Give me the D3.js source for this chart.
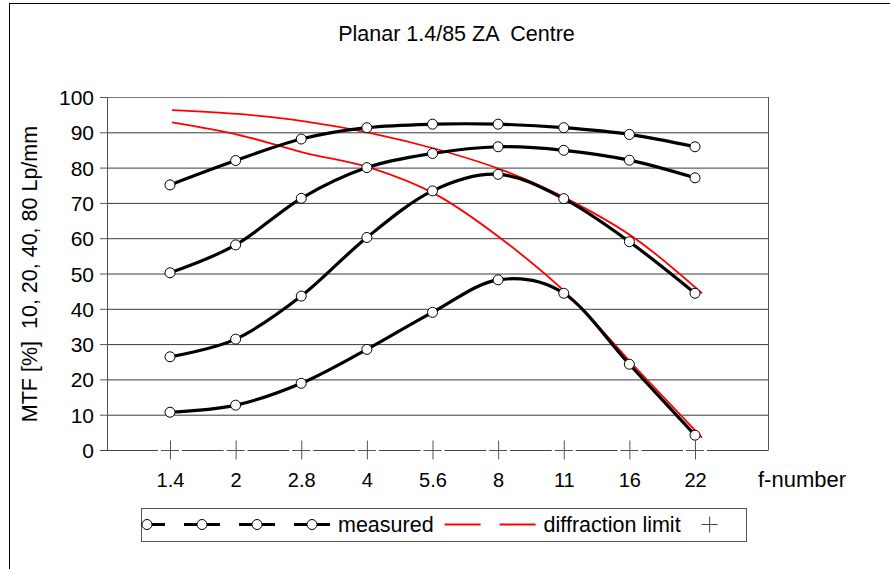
<!DOCTYPE html>
<html>
<head>
<meta charset="utf-8">
<script src="https://cdn.jsdelivr.net/npm/d3@7"></script>
<style>
  html, body { margin: 0; padding: 0; background: #fff; }
  svg { display: block; font-family: "Liberation Sans", Arial, sans-serif; }
  text { white-space: pre; }
</style>
</head>
<body>
<svg id="chart" width="890" height="569"></svg>
<script>
// ---- data ----
const fNumbers = ["1.4", "2", "2.8", "4", "5.6", "8", "11", "16", "22"];
const mtf10 = [75.1, 82.0, 88.1, 91.3, 92.3, 92.3, 91.3, 89.4, 85.9];
const mtf20 = [50.2, 58.1, 71.3, 80.0, 84.0, 85.9, 84.9, 82.1, 77.1];
const mtf40 = [26.4, 31.4, 43.6, 60.2, 73.4, 78.1, 71.2, 59.0, 44.4];
const mtf80 = [10.7, 12.7, 18.9, 28.5, 39.0, 48.2, 44.4, 24.3, 4.2];
const diffLimit40 = [96.3, 95.2, 93.1, 89.8, 85.2, 79.2, 70.8, 59.8, 44.4];
const diffLimit80 = [92.8, 89.3, 84.2, 79.9, 72.2, 59.4, 43.6, 23.3, 3.5];
const axisMarks = [0, 0, 0, 0, 0, 0, 0, 0, 0];
const yTicks = [0, 10, 20, 30, 40, 50, 60, 70, 80, 90, 100];
const titleText = "Planar 1.4/85 ZA  Centre";
const yTitle = "MTF [%]  10, 20, 40, 80 Lp/mm";
const xTitle = "f-number";
const legendItems = [
  { kind: "measured", label: "" },
  { kind: "measured", label: "" },
  { kind: "measured", label: "" },
  { kind: "measured", label: "measured" },
  { kind: "diffraction", label: "" },
  { kind: "diffraction", label: "diffraction limit" },
  { kind: "cross", label: "" }
];

// ---- layout ----
const plot = { left: 107, right: 768, top: 97, bottom: 450 };
const svg = d3.select("#chart");

// outer chart-area frame (only left & top edges visible)
svg.append("rect").attr("x", 9.5).attr("y", 3.5).attr("width", 900).attr("height", 600)
  .attr("fill", "none").attr("stroke", "#000").attr("stroke-width", 1);

const x = d3.scalePoint().domain(fNumbers).range([170, 695]);
const xDiff = d3.scalePoint().domain(fNumbers).range([172, 702]);
const y = d3.scaleLinear().domain([0, 100]).range([plot.bottom, plot.top]);

// gridlines
const grid = svg.append("g").attr("transform", `translate(${plot.left},0)`)
  .call(d3.axisRight(y).tickValues(yTicks).tickSize(plot.right - plot.left).tickFormat(""));
grid.select(".domain").remove();
grid.selectAll(".tick line").attr("stroke", "#3a3a3a").attr("stroke-width", 1);
grid.selectAll(".tick").filter(d => d === 100).select("line").attr("stroke", "#777");

// right border of plot area
svg.append("line").attr("x1", plot.right + 0.5).attr("x2", plot.right + 0.5)
  .attr("y1", plot.top).attr("y2", plot.bottom + 0.5).attr("stroke", "#555");

// y axis
const yAxis = svg.append("g").attr("transform", `translate(${plot.left},0)`)
  .call(d3.axisLeft(y).tickValues(yTicks).tickSize(7).tickPadding(6).tickSizeOuter(0));
yAxis.select(".domain").attr("stroke", "#555");
yAxis.selectAll(".tick line").attr("stroke", "#555");
yAxis.selectAll(".tick text").attr("font-size", 21).attr("fill", "#000")
  .attr("font-family", "Liberation Sans, Arial, sans-serif").attr("dy", "0.36em");

// x axis baseline
svg.append("line").attr("x1", plot.left - 7).attr("x2", plot.right)
  .attr("y1", y(0) + 0.5).attr("y2", y(0) + 0.5).attr("stroke", "#444");

// x axis tick labels
const xAxis = svg.append("g").attr("transform", `translate(0,${plot.bottom})`)
  .call(d3.axisBottom(x).tickSize(0).tickPadding(0));
xAxis.select(".domain").remove();
xAxis.selectAll(".tick text").attr("font-size", 20).attr("fill", "#000")
  .attr("font-family", "Liberation Sans, Arial, sans-serif").attr("y", 37).attr("dy", 0);

// "+" markers on the axis (series plotted at 0)
const crosses = svg.append("g");
fNumbers.forEach((f, i) => {
  const cx = x(f), cy = y(axisMarks[i]) + 0.5;
  crosses.append("line").attr("x1", cx - 12).attr("x2", cx + 12).attr("y1", cy).attr("y2", cy)
    .attr("stroke", "#fff").attr("stroke-width", 3);
  crosses.append("line").attr("x1", cx - 9).attr("x2", cx + 9).attr("y1", cy).attr("y2", cy)
    .attr("stroke", "#555").attr("stroke-width", 1);
  crosses.append("line").attr("x1", cx + 0.5).attr("x2", cx + 0.5).attr("y1", cy - 10).attr("y2", cy + 9)
    .attr("stroke", "#555").attr("stroke-width", 1);
});

// diffraction-limit lines
const redLine = d3.line().x((d, i) => xDiff(fNumbers[i])).y(d => y(d)).curve(d3.curveCardinal.tension(0));
[diffLimit40, diffLimit80].forEach(s => {
  svg.append("path").attr("d", redLine(s)).attr("fill", "none")
    .attr("stroke", "#ff0000").attr("stroke-width", 1.8);
});

// measured lines
const blackLine = d3.line().x((d, i) => x(fNumbers[i])).y(d => y(d)).curve(d3.curveCardinal.tension(0));
const measured = [mtf10, mtf20, mtf40, mtf80];
measured.forEach(s => {
  svg.append("path").attr("d", blackLine(s)).attr("fill", "none")
    .attr("stroke", "#000").attr("stroke-width", 3.2).attr("stroke-linejoin", "round");
});
measured.forEach(s => {
  svg.append("g").selectAll("circle").data(s).join("circle")
    .attr("cx", (d, i) => x(fNumbers[i])).attr("cy", d => y(d)).attr("r", 5)
    .attr("fill", "#fff").attr("stroke", "#000").attr("stroke-width", 1);
});

// titles
svg.append("text").attr("x", 456.5).attr("y", 41).attr("text-anchor", "middle")
  .attr("font-size", 21.5).text(titleText);
svg.append("text").attr("transform", "translate(37,274) rotate(-90)").attr("text-anchor", "middle")
  .attr("font-size", 21.5).text(yTitle);
svg.append("text").attr("x", 758).attr("y", 487).attr("font-size", 22).text(xTitle);

// legend
const lg = { x0: 141.5, x1: 746.5, y0: 508.5, y1: 541.5 };
svg.append("defs").append("clipPath").attr("id", "lgclip").append("rect")
  .attr("x", lg.x0).attr("y", lg.y0).attr("width", lg.x1 - lg.x0).attr("height", lg.y1 - lg.y0);
svg.append("rect").attr("x", lg.x0).attr("y", lg.y0).attr("width", lg.x1 - lg.x0).attr("height", lg.y1 - lg.y0)
  .attr("fill", "#fff").attr("stroke", "#555").attr("stroke-width", 1);
const legend = svg.append("g").attr("clip-path", "url(#lgclip)");
const ly = 524.5, symW = 36;
let cursor = 129;
legendItems.forEach(item => {
  const cx = cursor + symW / 2;
  if (item.kind === "measured") {
    legend.append("line").attr("x1", cursor).attr("x2", cursor + symW).attr("y1", ly).attr("y2", ly)
      .attr("stroke", "#000").attr("stroke-width", 3);
    legend.append("circle").attr("cx", cx).attr("cy", ly).attr("r", 5)
      .attr("fill", "#fff").attr("stroke", "#000");
  } else if (item.kind === "diffraction") {
    legend.append("line").attr("x1", cursor).attr("x2", cursor + symW).attr("y1", ly).attr("y2", ly)
      .attr("stroke", "#ff0000").attr("stroke-width", 1.8);
  } else {
    legend.append("line").attr("x1", cx - 8).attr("x2", cx + 8).attr("y1", ly).attr("y2", ly)
      .attr("stroke", "#444");
    legend.append("line").attr("x1", cx).attr("x2", cx).attr("y1", ly - 8).attr("y2", ly + 8)
      .attr("stroke", "#444");
  }
  cursor += symW + 8;
  if (item.label) {
    const t = legend.append("text").attr("x", cursor).attr("y", 532).attr("font-size", 21.5).text(item.label);
    cursor += t.node().getComputedTextLength();
  }
  cursor += 11;
});
</script>
</body>
</html>
